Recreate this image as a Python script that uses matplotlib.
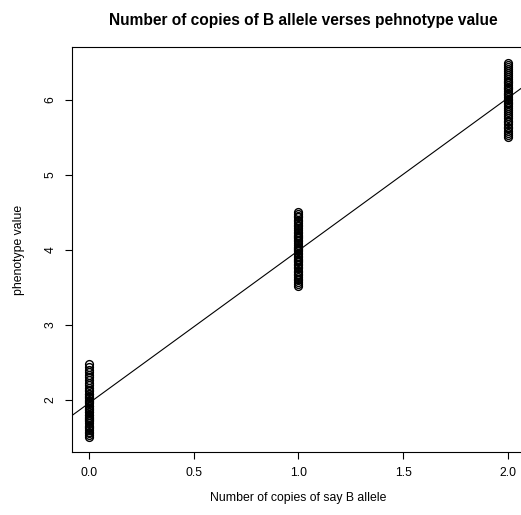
import numpy as np
import matplotlib
matplotlib.use("Agg")
import matplotlib.pyplot as plt

plt.rcParams['font.family'] = ['Liberation Sans', 'DejaVu Sans']

# phenotype values for 0, 1 and 2 copies of the B allele
g0 = [1.50, 1.53, 1.56, 1.57, 1.62, 1.64, 1.65, 1.69, 1.71, 1.74, 1.76, 1.77,
      1.80, 1.83, 1.84, 1.86, 1.88, 1.91, 1.92, 1.95, 1.98, 1.99, 2.02, 2.04,
      2.07, 2.08, 2.11, 2.13, 2.16, 2.19, 2.22, 2.26, 2.30, 2.33, 2.37, 2.40,
      2.43, 2.47, 1.60, 1.79, 1.97, 2.05, 1.73, 1.89]
g1 = [3.52, 3.54, 3.57, 3.59, 3.61, 3.63, 3.66, 3.68, 3.70, 3.72, 3.75, 3.77,
      3.79, 3.81, 3.83, 3.86, 3.88, 3.90, 3.92, 3.94, 3.96, 3.98, 4.00, 4.02,
      4.04, 4.06, 4.09, 4.11, 4.13, 4.15, 4.17, 4.20, 4.22, 4.24, 4.26, 4.29,
      4.31, 4.33, 4.36, 4.38, 4.40, 4.43, 4.45, 4.47, 4.50, 3.85, 4.01, 4.18]
g2 = [5.50, 5.53, 5.55, 5.58, 5.62, 5.64, 5.67, 5.70, 5.72, 5.75, 5.78, 5.81,
      5.84, 5.86, 5.89, 5.91, 5.94, 5.96, 5.99, 6.01, 6.04, 6.06, 6.09, 6.11,
      6.14, 6.17, 6.20, 6.22, 6.25, 6.27, 6.30, 6.33, 6.36, 6.38, 6.41, 6.44,
      6.46, 6.49, 6.07, 6.15, 5.97, 6.24]

x = np.array([0] * len(g0) + [1] * len(g1) + [2] * len(g2), dtype=float)
y = np.array(g0 + g1 + g2)

fig = plt.figure(figsize=(5.21, 5.15), dpi=100)
ax = fig.add_axes([0.1382, 0.1223, 0.869, 0.7864])

ax.plot(x, y, 'o', mfc='none', mec='black', ms=5.6, mew=1.0)

slope, icept = np.polyfit(x, y, 1)
ax.axline((0, icept), slope=slope, color='black', lw=0.8)

ax.set_xlim(-0.08, 2.08)
ax.set_ylim(1.3, 6.7)
ax.set_xticks([0.0, 0.5, 1.0, 1.5, 2.0])
ax.set_xticklabels(['0.0', '0.5', '1.0', '1.5', '2.0'])
ax.set_yticks([2, 3, 4, 5, 6])
for lab in ax.get_yticklabels():
    lab.set_rotation(90)
    lab.set_va('center')
ax.tick_params(direction='out', length=5, width=0.8, labelsize=8.8, pad=6)
for s in ax.spines.values():
    s.set_linewidth(0.8)
# the box's right edge falls just outside the picture
ax.spines['right'].set_visible(False)

ax.set_xlabel('Number of copies of say B allele', fontsize=8.8, labelpad=9)
ax.set_ylabel('phenotype value', fontsize=8.8, labelpad=14)
ax.set_title('Number of copies of B allele verses pehnotype value',
             fontsize=11.2, fontweight='bold', pad=16, x=0.51)

fig.savefig('out.png', dpi=100)
